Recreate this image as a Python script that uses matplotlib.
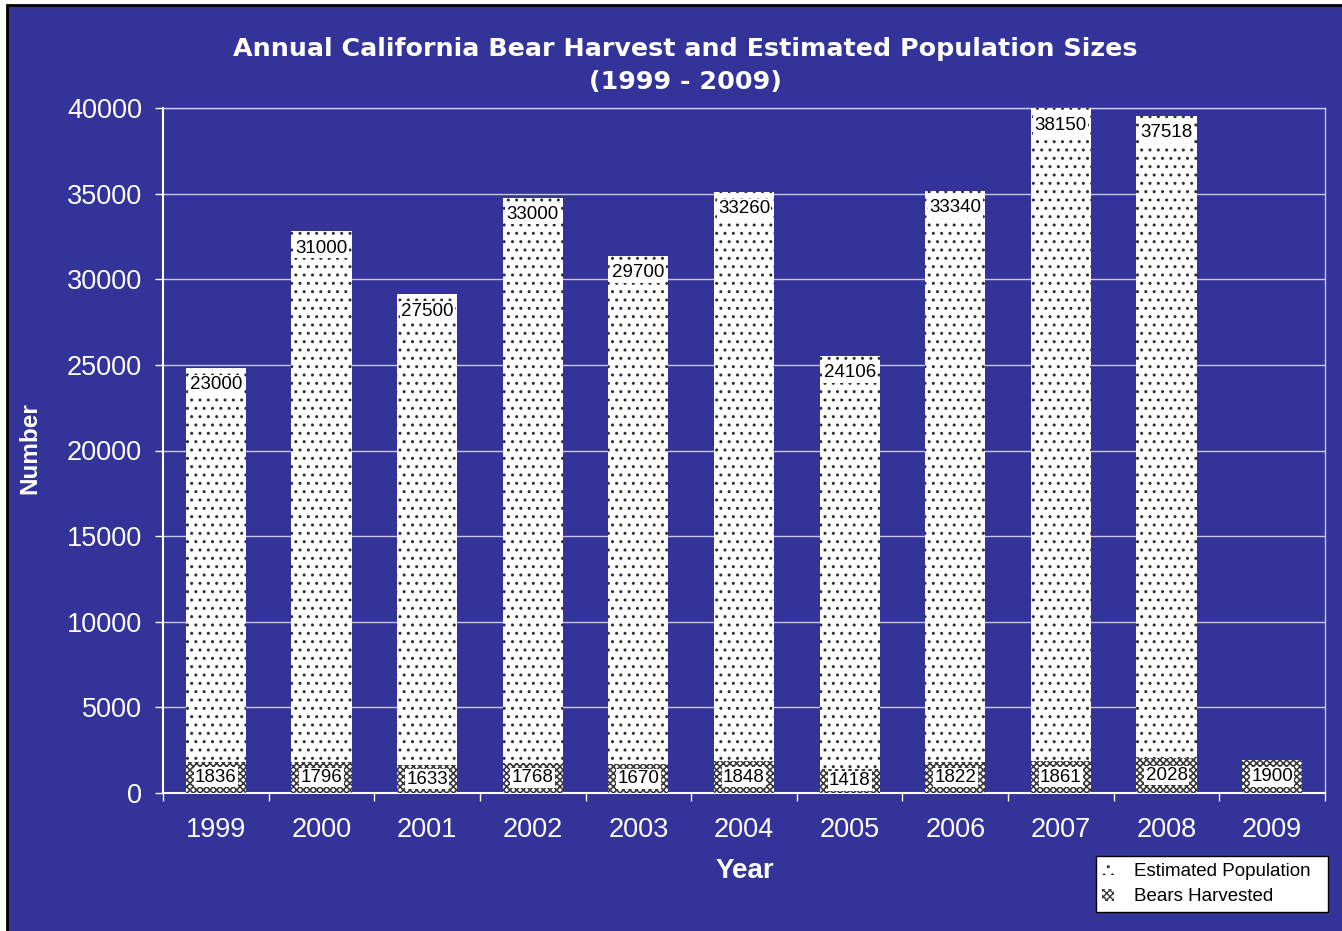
import numpy as np
import matplotlib.pyplot as plt
from matplotlib.patches import Rectangle, Patch

years = ['1999', '2000', '2001', '2002', '2003', '2004',
         '2005', '2006', '2007', '2008', '2009']
harvested = [1836, 1796, 1633, 1768, 1670, 1848, 1418, 1822, 1861, 2028, 1900]
population = [23000, 31000, 27500, 33000, 29700, 33260,
              24106, 33340, 38150, 37518, None]

bg = '#333399'
plt.rcParams['font.family'] = ['Liberation Sans', 'DejaVu Sans']

fig = plt.figure(figsize=(13.42, 9.31), dpi=100)
fig.patch.set_facecolor('white')
# blue chart area with black outline, cropped on the right and bottom
fig.patches.append(Rectangle((7 / 1342, -0.05), 1.1, 1 - 5 / 931 + 0.05,
                             transform=fig.transFigure, facecolor=bg,
                             edgecolor='black', linewidth=2, zorder=-5))

ax = fig.add_axes([163 / 1342, 1 - 793 / 931,
                   (1325 - 163) / 1342, (793 - 108) / 931])
ax.set_facecolor(bg)

x = np.arange(len(years))
w = 0.57
pop_vals = np.array([p if p is not None else 0 for p in population], dtype=float)

plt.rcParams['hatch.linewidth'] = 1.2
ax.bar(x, harvested, width=w, color='white', edgecolor='#3a3a3a',
       hatch='xxxxx', linewidth=0, zorder=3)
h_harv = Patch(facecolor='white', edgecolor='#3a3a3a', hatch='xxxxx', linewidth=0)
plt.rcParams['hatch.linewidth'] = 1.0
ax.bar(x, pop_vals, width=w, bottom=harvested, color='white',
       edgecolor='#303030', hatch='..', linewidth=0, zorder=3)
h_pop = Patch(facecolor='white', edgecolor='#303030', hatch='..', linewidth=0)

box = dict(facecolor='white', edgecolor='none', pad=1)
for i in range(len(years)):
    ax.text(x[i], harvested[i] / 2, str(harvested[i]), ha='center',
            va='center', fontsize=13.5, color='black', bbox=box, zorder=5)
    if population[i] is not None:
        top = min(harvested[i] + population[i], 40000)
        ax.annotate(str(population[i]), (x[i], top), xytext=(0, -17),
                    textcoords='offset pixels', ha='center', va='center',
                    fontsize=13.5, color='black', bbox=box, zorder=5,
                    annotation_clip=False)

ax.set_xlim(-0.5, len(years) - 0.5)
ax.set_ylim(0, 40000)
ax.set_yticks(np.arange(0, 40001, 5000))
ax.set_xticks(x)
ax.set_xticklabels(years)
ax.set_xticks(np.arange(-0.5, len(years), 1), minor=True)
ax.tick_params(axis='x', which='major', length=0, pad=17,
               labelsize=19.5, labelcolor='white')
ax.tick_params(axis='x', which='minor', length=6, color='white',
               direction='out', width=1)
ax.tick_params(axis='y', length=6, color='white', labelsize=19.5,
               labelcolor='white', pad=9, width=1)
ax.grid(axis='y', color='#c8c8e8', linewidth=1, zorder=1)
ax.set_axisbelow(True)
for s in ['top', 'right']:
    ax.spines[s].set_color('#c8c8e8')
    ax.spines[s].set_linewidth(1)
for s in ['left', 'bottom']:
    ax.spines[s].set_color('white')
    ax.spines[s].set_linewidth(1.5)

fig.text(685 / 1342, 1 - 49 / 931, 'Annual California Bear Harvest and Estimated Population Sizes',
         ha='center', va='center', fontsize=18.3, fontweight='bold', color='white',
         family='DejaVu Sans')
fig.text(685 / 1342, 1 - 82 / 931, '(1999 - 2009)',
         ha='center', va='center', fontsize=18.3, fontweight='bold', color='white',
         family='DejaVu Sans')
fig.text(745 / 1342, 1 - 871 / 931, 'Year', ha='center', va='center',
         fontsize=20, fontweight='bold', color='white')
fig.text(30 / 1342, 1 - 448 / 931, 'Number', ha='center', va='center',
         rotation=90, fontsize=17.5, fontweight='bold', color='white')

leg = fig.legend([h_pop, h_harv], ['Estimated Population  ', 'Bears Harvested'],
                 loc='lower right', bbox_to_anchor=(1328 / 1342, 1 - 912 / 931),
                 fontsize=13.5, frameon=True, fancybox=False, framealpha=1,
                 edgecolor='black', handlelength=0.6, handleheight=0.6,
                 handletextpad=1.1, borderpad=0.35, labelspacing=0.45,
                 borderaxespad=0)
leg.get_frame().set_linewidth(1)

fig.savefig('out.png', dpi=100, facecolor=fig.get_facecolor())
